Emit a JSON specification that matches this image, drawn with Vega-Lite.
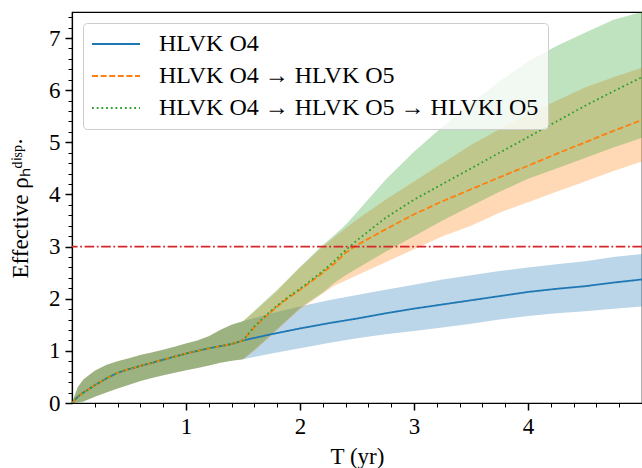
{
  "$schema": "https://vega.github.io/schema/vega-lite/v6.json",
  "width": 570,
  "height": 391,
  "autosize": {"type": "none"},
  "padding": {"left": 72, "top": 12, "right": 0, "bottom": 65},
  "background": "white",
  "config": {
    "font": "Liberation Serif",
    "view": {"stroke": "#000", "strokeWidth": 1.2},
    "axis": {"grid": false, "domainColor": "#000", "tickColor": "#000", "labelColor": "#000", "titleColor": "#000", "labelFont": "Liberation Serif", "titleFont": "Liberation Serif", "labelFontSize": 23, "titleFontSize": 23, "titleFontWeight": "normal", "domainWidth": 1.2}
  },
  "datasets": {
    "bands": [
      {"s": "HLVK O4", "T": 0, "m": 0, "lo": 0, "hi": 0},
      {"s": "HLVK O4", "T": 0.05, "m": 0.12, "lo": 0.01, "hi": 0.3},
      {"s": "HLVK O4", "T": 0.1, "m": 0.2, "lo": 0.03, "hi": 0.45},
      {"s": "HLVK O4", "T": 0.2, "m": 0.34, "lo": 0.12, "hi": 0.62},
      {"s": "HLVK O4", "T": 0.3, "m": 0.47, "lo": 0.2, "hi": 0.73},
      {"s": "HLVK O4", "T": 0.4, "m": 0.58, "lo": 0.28, "hi": 0.8},
      {"s": "HLVK O4", "T": 0.5, "m": 0.65, "lo": 0.35, "hi": 0.86},
      {"s": "HLVK O4", "T": 0.6, "m": 0.71, "lo": 0.42, "hi": 0.92},
      {"s": "HLVK O4", "T": 0.7, "m": 0.77, "lo": 0.48, "hi": 0.97},
      {"s": "HLVK O4", "T": 0.8, "m": 0.83, "lo": 0.53, "hi": 1.02},
      {"s": "HLVK O4", "T": 0.9, "m": 0.89, "lo": 0.58, "hi": 1.08},
      {"s": "HLVK O4", "T": 1.0, "m": 0.95, "lo": 0.63, "hi": 1.14},
      {"s": "HLVK O4", "T": 1.1, "m": 1.0, "lo": 0.67, "hi": 1.2},
      {"s": "HLVK O4", "T": 1.2, "m": 1.05, "lo": 0.72, "hi": 1.28},
      {"s": "HLVK O4", "T": 1.3, "m": 1.09, "lo": 0.77, "hi": 1.4},
      {"s": "HLVK O4", "T": 1.4, "m": 1.13, "lo": 0.81, "hi": 1.5},
      {"s": "HLVK O4", "T": 1.5, "m": 1.2, "lo": 0.84, "hi": 1.57},
      {"s": "HLVK O4", "T": 1.75, "m": 1.32, "lo": 0.95, "hi": 1.72},
      {"s": "HLVK O4", "T": 2.0, "m": 1.43, "lo": 1.05, "hi": 1.85},
      {"s": "HLVK O4", "T": 2.25, "m": 1.53, "lo": 1.15, "hi": 1.97},
      {"s": "HLVK O4", "T": 2.5, "m": 1.62, "lo": 1.24, "hi": 2.07},
      {"s": "HLVK O4", "T": 2.75, "m": 1.72, "lo": 1.32, "hi": 2.17},
      {"s": "HLVK O4", "T": 3.0, "m": 1.81, "lo": 1.38, "hi": 2.27},
      {"s": "HLVK O4", "T": 3.25, "m": 1.89, "lo": 1.45, "hi": 2.37},
      {"s": "HLVK O4", "T": 3.5, "m": 1.97, "lo": 1.52, "hi": 2.45},
      {"s": "HLVK O4", "T": 3.75, "m": 2.05, "lo": 1.6, "hi": 2.53},
      {"s": "HLVK O4", "T": 4.0, "m": 2.13, "lo": 1.67, "hi": 2.6},
      {"s": "HLVK O4", "T": 4.25, "m": 2.19, "lo": 1.72, "hi": 2.66},
      {"s": "HLVK O4", "T": 4.5, "m": 2.24, "lo": 1.76, "hi": 2.72},
      {"s": "HLVK O4", "T": 4.75, "m": 2.31, "lo": 1.81, "hi": 2.8},
      {"s": "HLVK O4", "T": 5.0, "m": 2.37, "lo": 1.85, "hi": 2.86},

      {"s": "HLVK O4 → HLVK O5", "T": 0, "m": 0, "lo": 0, "hi": 0},
      {"s": "HLVK O4 → HLVK O5", "T": 0.05, "m": 0.12, "lo": 0.01, "hi": 0.3},
      {"s": "HLVK O4 → HLVK O5", "T": 0.1, "m": 0.2, "lo": 0.03, "hi": 0.45},
      {"s": "HLVK O4 → HLVK O5", "T": 0.2, "m": 0.34, "lo": 0.12, "hi": 0.62},
      {"s": "HLVK O4 → HLVK O5", "T": 0.3, "m": 0.47, "lo": 0.2, "hi": 0.73},
      {"s": "HLVK O4 → HLVK O5", "T": 0.4, "m": 0.58, "lo": 0.28, "hi": 0.8},
      {"s": "HLVK O4 → HLVK O5", "T": 0.5, "m": 0.65, "lo": 0.35, "hi": 0.86},
      {"s": "HLVK O4 → HLVK O5", "T": 0.6, "m": 0.71, "lo": 0.42, "hi": 0.92},
      {"s": "HLVK O4 → HLVK O5", "T": 0.7, "m": 0.77, "lo": 0.48, "hi": 0.97},
      {"s": "HLVK O4 → HLVK O5", "T": 0.8, "m": 0.83, "lo": 0.53, "hi": 1.02},
      {"s": "HLVK O4 → HLVK O5", "T": 0.9, "m": 0.89, "lo": 0.58, "hi": 1.08},
      {"s": "HLVK O4 → HLVK O5", "T": 1.0, "m": 0.95, "lo": 0.63, "hi": 1.14},
      {"s": "HLVK O4 → HLVK O5", "T": 1.1, "m": 1.0, "lo": 0.67, "hi": 1.2},
      {"s": "HLVK O4 → HLVK O5", "T": 1.2, "m": 1.05, "lo": 0.72, "hi": 1.28},
      {"s": "HLVK O4 → HLVK O5", "T": 1.3, "m": 1.09, "lo": 0.77, "hi": 1.4},
      {"s": "HLVK O4 → HLVK O5", "T": 1.4, "m": 1.13, "lo": 0.81, "hi": 1.5},
      {"s": "HLVK O4 → HLVK O5", "T": 1.5, "m": 1.2, "lo": 0.84, "hi": 1.57},
      {"s": "HLVK O4 → HLVK O5", "T": 1.6, "m": 1.45, "lo": 1.0, "hi": 1.75},
      {"s": "HLVK O4 → HLVK O5", "T": 1.7, "m": 1.66, "lo": 1.2, "hi": 1.95},
      {"s": "HLVK O4 → HLVK O5", "T": 1.8, "m": 1.85, "lo": 1.4, "hi": 2.15},
      {"s": "HLVK O4 → HLVK O5", "T": 1.9, "m": 2.02, "lo": 1.6, "hi": 2.38},
      {"s": "HLVK O4 → HLVK O5", "T": 2.0, "m": 2.17, "lo": 1.8, "hi": 2.6},
      {"s": "HLVK O4 → HLVK O5", "T": 2.1, "m": 2.33, "lo": 1.95, "hi": 2.8},
      {"s": "HLVK O4 → HLVK O5", "T": 2.2, "m": 2.5, "lo": 2.1, "hi": 3.0},
      {"s": "HLVK O4 → HLVK O5", "T": 2.3, "m": 2.67, "lo": 2.25, "hi": 3.18},
      {"s": "HLVK O4 → HLVK O5", "T": 2.4, "m": 2.88, "lo": 2.35, "hi": 3.35},
      {"s": "HLVK O4 → HLVK O5", "T": 2.5, "m": 3.03, "lo": 2.45, "hi": 3.52},
      {"s": "HLVK O4 → HLVK O5", "T": 2.75, "m": 3.33, "lo": 2.7, "hi": 3.9},
      {"s": "HLVK O4 → HLVK O5", "T": 3.0, "m": 3.62, "lo": 2.95, "hi": 4.25},
      {"s": "HLVK O4 → HLVK O5", "T": 3.25, "m": 3.87, "lo": 3.2, "hi": 4.6},
      {"s": "HLVK O4 → HLVK O5", "T": 3.5, "m": 4.1, "lo": 3.4, "hi": 4.95},
      {"s": "HLVK O4 → HLVK O5", "T": 3.75, "m": 4.33, "lo": 3.65, "hi": 5.25},
      {"s": "HLVK O4 → HLVK O5", "T": 4.0, "m": 4.55, "lo": 3.85, "hi": 5.55},
      {"s": "HLVK O4 → HLVK O5", "T": 4.25, "m": 4.78, "lo": 4.05, "hi": 5.8},
      {"s": "HLVK O4 → HLVK O5", "T": 4.5, "m": 5.0, "lo": 4.25, "hi": 6.05},
      {"s": "HLVK O4 → HLVK O5", "T": 4.75, "m": 5.22, "lo": 4.45, "hi": 6.25},
      {"s": "HLVK O4 → HLVK O5", "T": 5.0, "m": 5.43, "lo": 4.63, "hi": 6.43},

      {"s": "HLVK O4 → HLVK O5 → HLVKI O5", "T": 0, "m": 0, "lo": 0, "hi": 0},
      {"s": "HLVK O4 → HLVK O5 → HLVKI O5", "T": 0.05, "m": 0.12, "lo": 0.01, "hi": 0.3},
      {"s": "HLVK O4 → HLVK O5 → HLVKI O5", "T": 0.1, "m": 0.2, "lo": 0.03, "hi": 0.45},
      {"s": "HLVK O4 → HLVK O5 → HLVKI O5", "T": 0.2, "m": 0.34, "lo": 0.12, "hi": 0.62},
      {"s": "HLVK O4 → HLVK O5 → HLVKI O5", "T": 0.3, "m": 0.47, "lo": 0.2, "hi": 0.73},
      {"s": "HLVK O4 → HLVK O5 → HLVKI O5", "T": 0.4, "m": 0.58, "lo": 0.28, "hi": 0.8},
      {"s": "HLVK O4 → HLVK O5 → HLVKI O5", "T": 0.5, "m": 0.65, "lo": 0.35, "hi": 0.86},
      {"s": "HLVK O4 → HLVK O5 → HLVKI O5", "T": 0.6, "m": 0.71, "lo": 0.42, "hi": 0.92},
      {"s": "HLVK O4 → HLVK O5 → HLVKI O5", "T": 0.7, "m": 0.77, "lo": 0.48, "hi": 0.97},
      {"s": "HLVK O4 → HLVK O5 → HLVKI O5", "T": 0.8, "m": 0.83, "lo": 0.53, "hi": 1.02},
      {"s": "HLVK O4 → HLVK O5 → HLVKI O5", "T": 0.9, "m": 0.89, "lo": 0.58, "hi": 1.08},
      {"s": "HLVK O4 → HLVK O5 → HLVKI O5", "T": 1.0, "m": 0.95, "lo": 0.63, "hi": 1.14},
      {"s": "HLVK O4 → HLVK O5 → HLVKI O5", "T": 1.1, "m": 1.0, "lo": 0.67, "hi": 1.2},
      {"s": "HLVK O4 → HLVK O5 → HLVKI O5", "T": 1.2, "m": 1.05, "lo": 0.72, "hi": 1.28},
      {"s": "HLVK O4 → HLVK O5 → HLVKI O5", "T": 1.3, "m": 1.09, "lo": 0.77, "hi": 1.4},
      {"s": "HLVK O4 → HLVK O5 → HLVKI O5", "T": 1.4, "m": 1.13, "lo": 0.81, "hi": 1.5},
      {"s": "HLVK O4 → HLVK O5 → HLVKI O5", "T": 1.5, "m": 1.2, "lo": 0.84, "hi": 1.57},
      {"s": "HLVK O4 → HLVK O5 → HLVKI O5", "T": 1.6, "m": 1.47, "lo": 1.02, "hi": 1.77},
      {"s": "HLVK O4 → HLVK O5 → HLVKI O5", "T": 1.7, "m": 1.68, "lo": 1.22, "hi": 1.97},
      {"s": "HLVK O4 → HLVK O5 → HLVKI O5", "T": 1.8, "m": 1.87, "lo": 1.42, "hi": 2.17},
      {"s": "HLVK O4 → HLVK O5 → HLVKI O5", "T": 1.9, "m": 2.04, "lo": 1.62, "hi": 2.39},
      {"s": "HLVK O4 → HLVK O5 → HLVKI O5", "T": 2.0, "m": 2.19, "lo": 1.82, "hi": 2.61},
      {"s": "HLVK O4 → HLVK O5 → HLVKI O5", "T": 2.1, "m": 2.36, "lo": 1.97, "hi": 2.82},
      {"s": "HLVK O4 → HLVK O5 → HLVKI O5", "T": 2.2, "m": 2.53, "lo": 2.12, "hi": 3.03},
      {"s": "HLVK O4 → HLVK O5 → HLVKI O5", "T": 2.3, "m": 2.72, "lo": 2.3, "hi": 3.22},
      {"s": "HLVK O4 → HLVK O5 → HLVKI O5", "T": 2.4, "m": 2.93, "lo": 2.45, "hi": 3.42},
      {"s": "HLVK O4 → HLVK O5 → HLVKI O5", "T": 2.5, "m": 3.12, "lo": 2.58, "hi": 3.66},
      {"s": "HLVK O4 → HLVK O5 → HLVKI O5", "T": 2.75, "m": 3.55, "lo": 2.9, "hi": 4.28},
      {"s": "HLVK O4 → HLVK O5 → HLVKI O5", "T": 3.0, "m": 3.9, "lo": 3.2, "hi": 4.82},
      {"s": "HLVK O4 → HLVK O5 → HLVKI O5", "T": 3.25, "m": 4.2, "lo": 3.5, "hi": 5.3},
      {"s": "HLVK O4 → HLVK O5 → HLVKI O5", "T": 3.5, "m": 4.5, "lo": 3.78, "hi": 5.75},
      {"s": "HLVK O4 → HLVK O5 → HLVKI O5", "T": 3.75, "m": 4.8, "lo": 4.05, "hi": 6.17},
      {"s": "HLVK O4 → HLVK O5 → HLVKI O5", "T": 4.0, "m": 5.1, "lo": 4.3, "hi": 6.55},
      {"s": "HLVK O4 → HLVK O5 → HLVKI O5", "T": 4.25, "m": 5.4, "lo": 4.5, "hi": 6.85},
      {"s": "HLVK O4 → HLVK O5 → HLVKI O5", "T": 4.5, "m": 5.7, "lo": 4.7, "hi": 7.1},
      {"s": "HLVK O4 → HLVK O5 → HLVKI O5", "T": 4.75, "m": 5.98, "lo": 4.9, "hi": 7.35},
      {"s": "HLVK O4 → HLVK O5 → HLVKI O5", "T": 5.0, "m": 6.25, "lo": 5.09, "hi": 7.5}
    ],
    "thr": [{"level": 3}]
  },
  "data": {"name": "bands"},
  "layer": [
    {
      "mark": {"type": "area", "opacity": 0.3, "clip": true},
      "encoding": {
        "x": {"field": "T", "type": "quantitative", "scale": {"domain": [0, 5], "nice": false, "zero": false},
          "axis": {"orient": "bottom", "labelOverlap": false, "labelFlush": false, "tickCount": 200,
            "values": [0.2, 0.4, 0.6, 0.8, 1, 1.2, 1.4, 1.6, 1.8, 2, 2.2, 2.4, 2.6, 2.8, 3, 3.2, 3.4, 3.6, 3.8, 4, 4.2, 4.4, 4.6, 4.8],
            "labelExpr": "abs(datum.value - round(datum.value)) < 0.001 ? format(datum.value, 'd') : ''",
            "tickSize": {"condition": {"test": "abs(datum.value - round(datum.value)) < 0.001", "value": 7}, "value": 4},
            "tickWidth": {"condition": {"test": "abs(datum.value - round(datum.value)) < 0.001", "value": 1.5}, "value": 1},
            "labelPadding": 5, "title": "T (yr)", "titlePadding": 7}},
        "y": {"field": "lo", "type": "quantitative", "scale": {"domain": [0, 7.5], "nice": false},
          "axis": {"orient": "left", "labelOverlap": false, "labelFlush": false, "tickCount": 200,
            "values": [0, 0.2, 0.4, 0.6, 0.8, 1, 1.2, 1.4, 1.6, 1.8, 2, 2.2, 2.4, 2.6, 2.8, 3, 3.2, 3.4, 3.6, 3.8, 4, 4.2, 4.4, 4.6, 4.8, 5, 5.2, 5.4, 5.6, 5.8, 6, 6.2, 6.4, 6.6, 6.8, 7, 7.2, 7.4],
            "labelExpr": "abs(datum.value - round(datum.value)) < 0.001 ? format(datum.value, 'd') : ''",
            "tickSize": {"condition": {"test": "abs(datum.value - round(datum.value)) < 0.001", "value": 7}, "value": 4},
            "tickWidth": {"condition": {"test": "abs(datum.value - round(datum.value)) < 0.001", "value": 1.5}, "value": 1},
            "labelPadding": 5, "title": "Effective ρₕᵈⁱˢᵖ·", "titlePadding": 16}},
        "y2": {"field": "hi"},
        "color": {"field": "s", "type": "nominal",
          "scale": {"domain": ["HLVK O4", "HLVK O4 → HLVK O5", "HLVK O4 → HLVK O5 → HLVKI O5"], "range": ["#1f77b4", "#ff7f0e", "#2ca02c"]},
          "legend": {"title": null, "orient": "top-left", "offset": 11, "symbolType": "M-1.5,0L4.5,0", "symbolSize": 256, "symbolStrokeWidth": 2, "symbolOpacity": 1, "labelFontSize": 24, "labelFont": "Liberation Serif", "labelColor": "#000", "labelOffset": 43, "rowPadding": 8, "padding": 9, "fillColor": "rgba(255,255,255,0.8)", "strokeColor": "#cccccc", "cornerRadius": 4, "labelLimit": 600}}
      }
    },
    {
      "mark": {"type": "line", "strokeWidth": 1.8, "clip": true},
      "encoding": {
        "x": {"field": "T", "type": "quantitative"},
        "y": {"field": "m", "type": "quantitative"},
        "color": {"field": "s", "type": "nominal",
          "scale": {"domain": ["HLVK O4", "HLVK O4 → HLVK O5", "HLVK O4 → HLVK O5 → HLVKI O5"], "range": ["#1f77b4", "#ff7f0e", "#2ca02c"]},
          "legend": {"title": null, "orient": "top-left", "offset": 11, "symbolType": "M-1.5,0L4.5,0", "symbolSize": 256, "symbolStrokeWidth": 2, "symbolOpacity": 1, "labelFontSize": 24, "labelFont": "Liberation Serif", "labelColor": "#000", "labelOffset": 43, "rowPadding": 8, "padding": 9, "fillColor": "rgba(255,255,255,0.8)", "strokeColor": "#cccccc", "cornerRadius": 4, "labelLimit": 600}},
        "strokeDash": {"field": "s", "type": "nominal",
          "scale": {"domain": ["HLVK O4", "HLVK O4 → HLVK O5", "HLVK O4 → HLVK O5 → HLVKI O5"], "range": [[1, 0], [6, 2.6], [1.8, 2.9]]},
          "legend": null}
      }
    },
    {
      "data": {"name": "thr"},
      "mark": {"type": "rule", "color": "#d62728", "strokeWidth": 1.8, "strokeDash": [9.6, 2.6, 1.8, 2.6]},
      "encoding": {
        "y": {"field": "level", "type": "quantitative"}
      }
    }
  ]
}
